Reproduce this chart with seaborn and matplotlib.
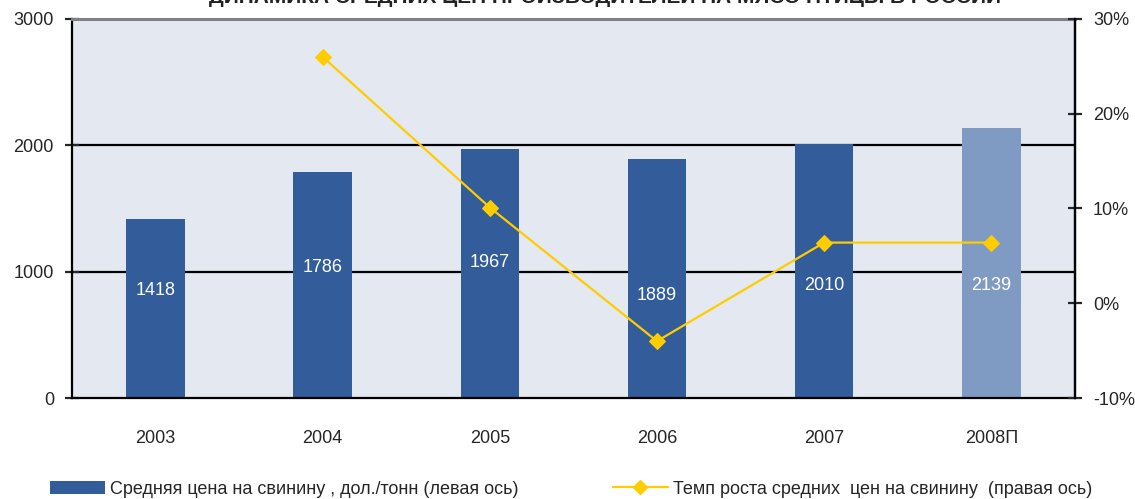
import numpy as np
import pandas as pd
import matplotlib
matplotlib.use('Agg')
import matplotlib.pyplot as plt
from matplotlib.patches import Patch
from matplotlib.lines import Line2D
from matplotlib.ticker import FixedLocator
import seaborn as sns

# Data
years = ['2003', '2004', '2005', '2006', '2007', '2008П']
prices = [1418, 1786, 1967, 1889, 2010, 2139]
growth = [np.nan, 26.0, 10.1, -4.0, 6.4, 6.4]
bar_colors = ['#325d9a', '#325d9a', '#325d9a', '#325d9a', '#325d9a', '#7f9bc3']
label_heights = [850, 1030, 1070, 810, 890, 890]

title = 'ДИНАМИКА СРЕДНИХ ЦЕН ПРОИЗВОДИТЕЛЕЙ НА МЯСО ПТИЦЫ В РОССИИ'
bar_name = 'Средняя цена на свинину , дол./тонн (левая ось)'
line_name = 'Темп роста средних  цен на свинину  (правая ось)'

sns.set_style('white')
plt.rcParams['font.family'] = ['Liberation Sans Narrow', 'Liberation Sans', 'DejaVu Sans']

df = pd.DataFrame({'year': years, 'price': prices, 'growth': growth})

fig = plt.figure(figsize=(11.35, 4.99), dpi=100)
ax = fig.add_axes([0.0634, 0.2024, 0.8836, 0.7596])
ax.set_facecolor('#e3e8f1')

sns.barplot(data=df, x='year', y='price', hue='year', palette=bar_colors,
            width=0.35, legend=False, ax=ax, saturation=1,
            edgecolor='none', linewidth=0)

for i, (p, h) in enumerate(zip(prices, label_heights)):
    ax.text(i, h, str(p), ha='center', va='center', color='white', fontsize=13)

ax.set_ylim(0, 3000)
ax.set_xlim(-0.5, 5.5)
ax.set_yticks([0, 1000, 2000, 3000])
for yv in [1000, 2000]:
    ax.axhline(yv, color='black', lw=1.6, zorder=0.5)
ax.set_xlabel('')
ax.set_ylabel('')

for s in ['left', 'bottom', 'right']:
    ax.spines[s].set_color('black')
    ax.spines[s].set_linewidth(1.6)
ax.spines['top'].set_color('#808080')
ax.spines['top'].set_linewidth(2.2)

ax.tick_params(axis='y', direction='inout', length=10, width=1.6, labelsize=13, pad=8)
ax.tick_params(axis='x', which='major', length=0, labelsize=13, pad=23)
ax.xaxis.set_minor_locator(FixedLocator([0.5, 1.5, 2.5, 3.5, 4.5]))
ax.tick_params(axis='x', which='minor', direction='inout', length=12, width=1.6)

ax2 = ax.twinx()
x_pos = np.arange(len(years))
sns.lineplot(x=x_pos, y=df['growth'], ax=ax2, color='#ffcc00', lw=1.6,
             marker='D', markersize=8, markeredgecolor='#ffcc00')
ax2.set_ylim(-10, 30)
ax2.set_yticks([-10, 0, 10, 20, 30])
ax2.set_yticklabels([f'{v}%' for v in [-10, 0, 10, 20, 30]])
ax2.set_ylabel('')
ax2.tick_params(axis='y', direction='inout', length=10, width=1.6, labelsize=13, pad=8)
for s in ['left', 'top', 'bottom']:
    ax2.spines[s].set_visible(False)
ax2.spines['right'].set_color('black')
ax2.spines['right'].set_linewidth(1.6)

fig.text(0.533, 0.994, title, ha='center', va='baseline', fontsize=15,
         fontweight='bold', color='#222222')

handles = [Patch(facecolor='#325d9a', edgecolor='none'),
           Line2D([0], [0], color='#ffcc00', lw=1.6, marker='D', markersize=7)]
fig.legend(handles, [bar_name, line_name], loc='lower left',
           bbox_to_anchor=(0.03, -0.03), ncol=2, frameon=False, fontsize=13,
           columnspacing=5.2, handlelength=3.05, handletextpad=0.28)

fig.savefig('out.png', dpi=100)
